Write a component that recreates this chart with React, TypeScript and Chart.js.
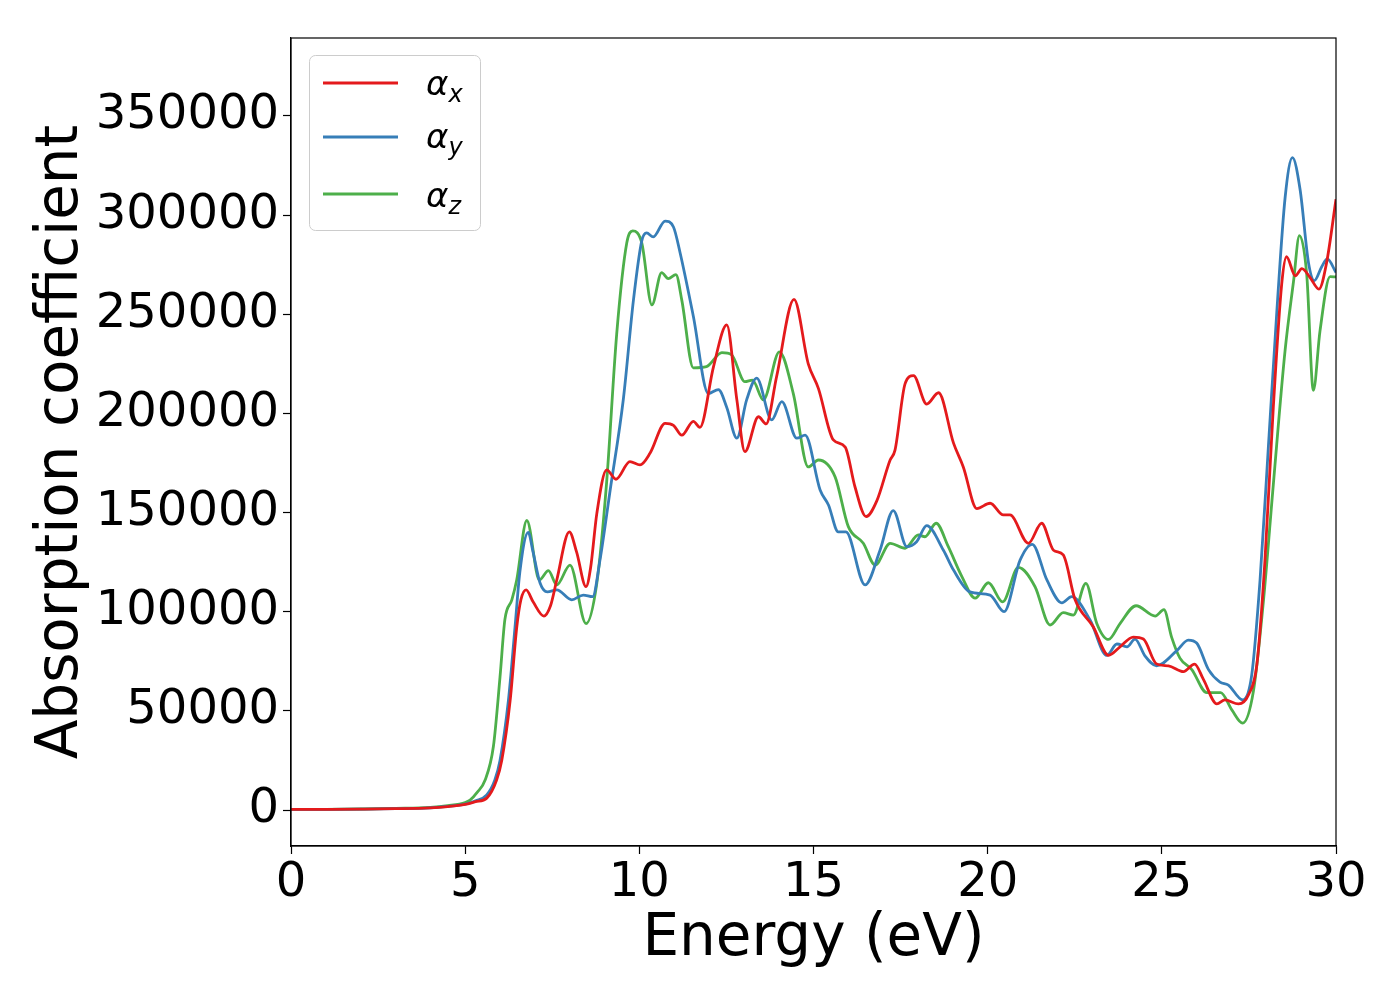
import { useEffect, useRef } from 'react';
import { Chart, registerables } from 'chart.js';

Chart.register(...registerables);

// photon energy (eV) and absorption coefficient
const alphaXEnergy = [0, 1, 2, 3, 4, 4.5, 5, 5.3, 5.62, 5.9, 6.05, 6.29, 6.48, 6.6, 6.75, 6.95, 7.26, 7.45, 7.63, 7.99, 8.2, 8.47, 8.6, 8.78, 9.06, 9.33, 9.73, 10.02, 10.31, 10.74, 10.98, 11.22, 11.55, 11.74, 12.13, 12.51, 12.8, 13.03, 13.42, 13.64, 13.94, 14.44, 14.85, 15.14, 15.57, 15.91, 16.19, 16.51, 16.82, 17.2, 17.34, 17.63, 17.87, 18.25, 18.59, 19.02, 19.3, 19.69, 20.07, 20.45, 20.64, 21.17, 21.55, 21.89, 22.17, 22.51, 23.03, 23.47, 23.8, 24.18, 24.47, 24.85, 25.19, 25.62, 25.94, 26.19, 26.58, 26.81, 27.2, 27.49, 27.73, 27.96, 28.2, 28.44, 28.58, 28.83, 29.02, 29.26, 29.51, 29.73, 30];
const alphaX = [300, 350, 450, 650, 1100, 1700, 2800, 4200, 6000, 15000, 25000, 55000, 92000, 106000, 111000, 105000, 97800, 103000, 116000, 140300, 130000, 112600, 122000, 149600, 171500, 166800, 175700, 174000, 180000, 195000, 194000, 189000, 196000, 193000, 223600, 244600, 206800, 180700, 198300, 194700, 218500, 257500, 225000, 212600, 186600, 183000, 163000, 148000, 156000, 176500, 181500, 215000, 219000, 204700, 210400, 185000, 173000, 152000, 154700, 148800, 148800, 134500, 144600, 131000, 128600, 106000, 92400, 78000, 82300, 87200, 86200, 73600, 72700, 69800, 73600, 66000, 53500, 55500, 53500, 58200, 73600, 125800, 203000, 265000, 279000, 269400, 273000, 268400, 262700, 276000, 308000];

const alphaYEnergy = [0, 1, 2, 3, 4, 4.5, 5, 5.3, 5.62, 5.85, 6.0, 6.24, 6.43, 6.57, 6.81, 6.95, 7.15, 7.36, 7.63, 8.06, 8.39, 8.66, 8.87, 9.16, 9.54, 9.83, 10.07, 10.21, 10.4, 10.74, 10.98, 11.17, 11.55, 11.98, 12.27, 12.51, 12.8, 13.08, 13.37, 13.8, 14.09, 14.52, 14.76, 15.19, 15.43, 15.71, 15.93, 16.48, 16.91, 17.29, 17.68, 17.96, 18.25, 18.73, 19.02, 19.49, 20.07, 20.47, 20.93, 21.28, 21.7, 22.13, 22.41, 22.94, 23.42, 23.71, 24.0, 24.23, 24.52, 24.85, 25.43, 25.76, 26.0, 26.34, 26.67, 26.91, 27.32, 27.58, 27.82, 28.06, 28.3, 28.54, 28.75, 28.97, 29.21, 29.38, 29.59, 29.75, 30];
const alphaY = [300, 350, 450, 650, 1100, 1800, 3000, 4600, 7600, 15000, 25000, 55000, 92000, 120000, 140000, 130000, 114500, 110000, 111000, 106000, 108400, 107600, 126000, 161000, 207000, 257000, 287000, 291000, 289000, 297000, 294000, 281000, 249000, 210000, 212000, 203000, 187500, 206800, 217800, 196700, 205900, 187500, 189000, 161400, 153800, 140300, 140300, 113500, 131000, 151000, 132800, 135300, 143400, 131000, 121000, 110000, 108400, 100000, 126000, 134000, 116000, 104500, 107600, 95800, 78000, 83700, 82300, 86200, 77600, 72700, 80400, 85700, 84200, 70800, 64500, 63000, 55500, 68000, 116000, 183500, 251000, 309000, 329000, 312800, 276000, 267000, 274000, 277900, 271000];

const alphaZEnergy = [0, 1, 2, 3, 4, 4.5, 5, 5.14, 5.35, 5.57, 5.81, 6.0, 6.14, 6.34, 6.48, 6.77, 7.13, 7.39, 7.63, 8.01, 8.47, 8.78, 9.06, 9.35, 9.64, 9.81, 10.07, 10.36, 10.64, 10.83, 11.05, 11.22, 11.55, 11.93, 12.37, 12.65, 13.03, 13.25, 13.56, 14.02, 14.42, 14.85, 15.14, 15.62, 16.0, 16.43, 16.77, 17.2, 17.63, 18.01, 18.2, 18.52, 18.87, 19.26, 19.64, 20.02, 20.43, 20.88, 21.36, 21.79, 22.17, 22.46, 22.82, 23.13, 23.47, 23.8, 24.26, 24.81, 25.06, 25.28, 25.52, 25.86, 26.29, 26.69, 27.01, 27.32, 27.63, 27.92, 28.2, 28.54, 28.78, 28.95, 29.16, 29.35, 29.54, 29.83, 30];
const alphaZ = [300, 350, 500, 800, 1300, 2200, 3800, 5000, 9000, 15000, 32000, 67000, 96000, 106000, 116000, 146000, 116000, 120700, 113500, 123500, 94000, 114500, 165000, 240000, 286000, 292000, 286000, 254700, 271000, 268000, 270000, 257000, 223000, 223600, 230600, 229500, 216000, 216800, 206800, 231000, 210000, 173000, 176500, 168000, 142900, 134500, 123500, 134500, 132000, 138700, 137800, 144600, 132800, 117700, 106800, 114600, 105000, 122400, 112600, 93300, 99500, 98300, 114300, 94200, 86000, 94000, 103000, 97800, 101000, 87200, 76600, 70800, 59200, 59200, 50500, 43800, 60000, 106000, 164000, 232000, 266500, 289600, 270000, 211600, 241500, 269000, 268800];

const seriesSubscripts = ['x', 'y', 'z'];
const seriesColors = ['#e41a1c', '#377eb8', '#4daf4a'];
const xTickValues = [0, 5, 10, 15, 20, 25, 30];
const yTickValues = [0, 50000, 100000, 150000, 200000, 250000, 300000, 350000];

const FONT = "'DejaVu Sans', sans-serif";

const toPoints = (xs: number[], ys: number[]) => xs.map((x, i) => ({ x, y: ys[i] }));

// matplotlib-style legend with italic alpha and subscript
const legendPlugin = {
  id: 'mplLegend',
  afterDatasetsDraw(chart: any) {
    const { ctx, chartArea } = chart;
    const left = chartArea.left + 18;
    const top = chartArea.top + 17;
    ctx.save();
    ctx.beginPath();
    ctx.roundRect(left + 0.5, top + 0.5, 171, 175, 6);
    ctx.fillStyle = 'rgba(255,255,255,0.8)';
    ctx.fill();
    ctx.strokeStyle = '#cccccc';
    ctx.lineWidth = 1;
    ctx.stroke();
    const lineY = [28, 82, 139];
    const baseY = [40, 93, 152];
    chart.data.datasets.forEach((ds: any, i: number) => {
      ctx.beginPath();
      ctx.moveTo(left + 14, top + lineY[i]);
      ctx.lineTo(left + 89, top + lineY[i]);
      ctx.strokeStyle = ds.borderColor;
      ctx.lineWidth = 2.8;
      ctx.stroke();
      ctx.fillStyle = '#000';
      ctx.textBaseline = 'alphabetic';
      ctx.textAlign = 'left';
      ctx.font = `italic 34px ${FONT}`;
      ctx.fillText('α', left + 117, top + baseY[i]);
      const w = ctx.measureText('α').width;
      ctx.font = `italic 24px ${FONT}`;
      ctx.fillText(seriesSubscripts[i], left + 117 + w, top + baseY[i] + 7);
    });
    ctx.restore();
  },
  afterDraw(chart: any) {
    const { ctx, chartArea } = chart;
    ctx.save();
    ctx.strokeStyle = '#000';
    ctx.lineWidth = 1.2;
    ctx.strokeRect(chartArea.left, chartArea.top, chartArea.right - chartArea.left, chartArea.bottom - chartArea.top);
    ctx.restore();
  },
};

export default function App() {
  const canvasRef = useRef<HTMLCanvasElement>(null);

  useEffect(() => {
    if (!canvasRef.current) return;
    const ctx = canvasRef.current.getContext('2d');
    if (!ctx) return;

    const sets = [
      toPoints(alphaXEnergy, alphaX),
      toPoints(alphaYEnergy, alphaY),
      toPoints(alphaZEnergy, alphaZ),
    ];

    const chart = new Chart(ctx, {
      type: 'line',
      data: {
        datasets: sets.map((data, i) => ({
          label: 'α' + seriesSubscripts[i],
          data,
          borderColor: seriesColors[i],
          backgroundColor: seriesColors[i],
          borderWidth: 2.8,
          pointRadius: 0,
          fill: false,
          cubicInterpolationMode: 'monotone' as const,
        })),
      },
      options: {
        responsive: false,
        devicePixelRatio: 1,
        animation: false,
        layout: { padding: { top: 38, right: 64, left: 0, bottom: 0 } },
        plugins: {
          legend: { display: false },
          tooltip: { enabled: false },
        },
        scales: {
          x: {
            type: 'linear',
            min: 0,
            max: 30,
            afterBuildTicks: (s: any) => {
              s.ticks = xTickValues.map((v) => ({ value: v }));
            },
            afterFit: (s: any) => {
              s.height = 154;
            },
            ticks: {
              font: { family: FONT, size: 48 },
              color: '#000',
              padding: 1,
              maxRotation: 0,
              callback: (v: any) => String(v),
            },
            grid: {
              drawOnChartArea: false,
              drawTicks: true,
              tickLength: 8,
              tickWidth: 1.2,
              tickColor: '#000',
            },
            border: { display: true, color: '#000', width: 1.2 },
            title: {
              display: true,
              text: 'Energy (eV)',
              font: { family: FONT, size: 58 },
              color: '#000',
              padding: { top: 0, bottom: 25 },
            },
          },
          y: {
            type: 'linear',
            min: -18150,
            max: 389300,
            afterBuildTicks: (s: any) => {
              s.ticks = yTickValues.map((v) => ({ value: v }));
            },
            afterFit: (s: any) => {
              s.width = 291;
            },
            ticks: {
              font: { family: FONT, size: 48 },
              color: '#000',
              padding: 4,
              callback: (v: any) => String(v),
            },
            grid: {
              drawOnChartArea: false,
              drawTicks: true,
              tickLength: 8,
              tickWidth: 1.2,
              tickColor: '#000',
            },
            border: { display: true, color: '#000', width: 1.2 },
            title: {
              display: true,
              text: 'Absorption coefficient',
              font: { family: FONT, size: 58 },
              color: '#000',
              padding: { top: 27, bottom: 0 },
            },
          },
        },
      },
      plugins: [legendPlugin],
    });

    return () => {
      chart.destroy();
    };
  }, []);

  return (
    <div style={{ position: 'absolute', left: 0, top: 0, width: 1400, height: 1000, background: '#fff' }}>
      <canvas ref={canvasRef} width={1400} height={1000} />
    </div>
  );
}
